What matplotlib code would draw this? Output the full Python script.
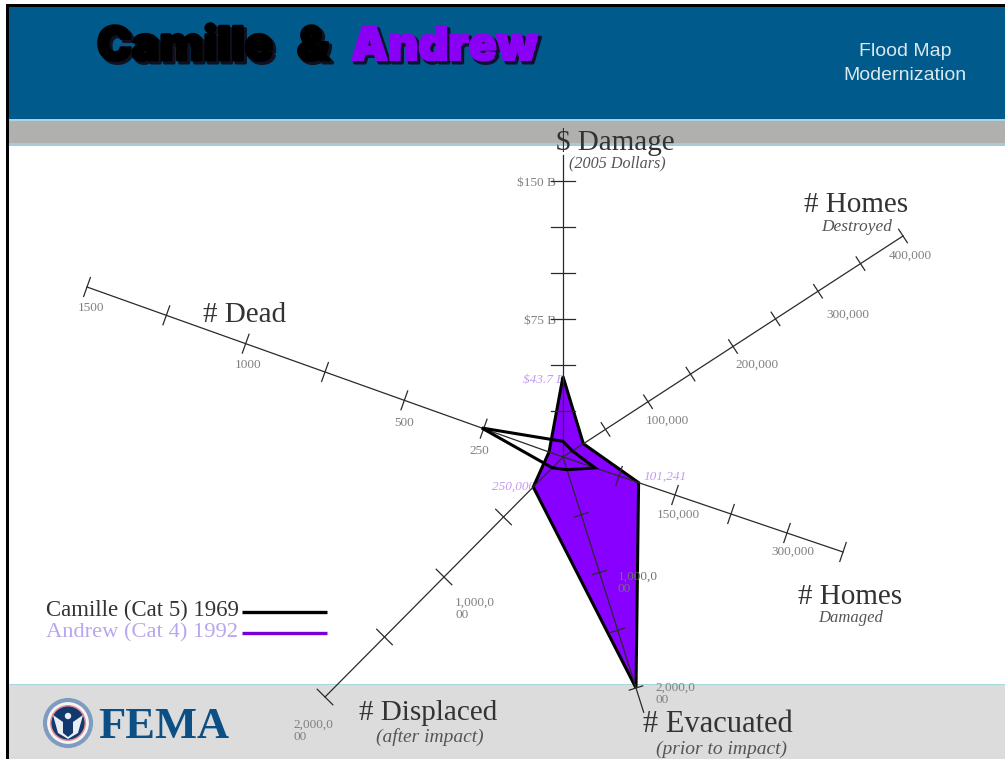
import numpy as np
import matplotlib
matplotlib.use('Agg')
import matplotlib.pyplot as plt
from matplotlib.patches import Rectangle, Circle, Polygon
import matplotlib.patheffects as pe

# axis order: damage, homes destroyed, homes damaged, evacuated, displaced, dead
camille = [8.5, 11000, 43000, 110000, 90000, 256]
andrew = [43.7, 24000, 101241, 2000000, 250000, 44]

damage_ticks = [25, 50, 75, 100, 125, 150]
destroyed_ticks = [50000, 100000, 150000, 200000, 250000, 300000, 350000, 400000]
damaged_ticks = [75000, 150000, 225000, 300000, 375000]
evacuated_ticks = [500000, 1000000, 1500000, 2000000]
displaced_ticks = [500000, 1000000, 1500000, 2000000]
dead_ticks = [250, 500, 750, 1000, 1250, 1500]

W, H = 1005, 759
CX, CY = 563, 457

# for each axis: pixel offset from the centre at the last tick
spokes = [
    {'ticks': damage_ticks, 'end': (0, -276), 'over': 1.094, 'half': 12},
    {'ticks': destroyed_ticks, 'end': (340, -221), 'over': 1.0, 'half': 8},
    {'ticks': damaged_ticks, 'end': (280, 95), 'over': 1.0, 'half': 10},
    {'ticks': evacuated_ticks, 'end': (73, 231), 'over': 1.105, 'half': 7},
    {'ticks': displaced_ticks, 'end': (-238, 240), 'over': 1.0, 'half': 11},
    {'ticks': dead_ticks, 'end': (-476, -170), 'over': 1.0, 'half': 10},
]


def to_xy(spoke, value):
    frac = value / spoke['ticks'][-1]
    return CX + spoke['end'][0] * frac, CY + spoke['end'][1] * frac


def polygon_points(values):
    return [to_xy(s, v) for s, v in zip(spokes, values)]


fig = plt.figure(figsize=(W / 100, H / 100), dpi=100)
ax = fig.add_axes([0, 0, 1, 1])
ax.set_xlim(0, W)
ax.set_ylim(H, 0)
ax.axis('off')

# slide background
ax.add_patch(Rectangle((8, 6), W, 113, color='#005a8c', lw=0, zorder=0))
ax.add_patch(Rectangle((8, 119), W, 2, color='#a9d3de', lw=0, zorder=0))
ax.add_patch(Rectangle((8, 121), W, 22, color='#b0b0ae', lw=0, zorder=0))
ax.add_patch(Rectangle((8, 143), W, 3, color='#a9c9d4', lw=0, zorder=0))
ax.add_patch(Rectangle((8, 685), W, 74, color='#dcdcdc', lw=0, zorder=0))
ax.add_patch(Rectangle((8, 684), W, 1.2, color='#a5d8dc', lw=0, zorder=0))
ax.add_patch(Rectangle((6, 4), W, 2.5, color='black', lw=0, zorder=1))
ax.add_patch(Rectangle((6, 4), 2.8, H, color='black', lw=0, zorder=1))

# title
for word, x, colour, shadow, stroke in [('Camille', 97, 'black', '#101020', 2),
                                        ('&', 297, 'black', '#101020', 2),
                                        ('Andrew', 351, '#8a00f5', '#101030', 1.5)]:
    ax.text(x, 48, word, family=['Inter', 'Liberation Sans'], weight=900, fontsize=33.5,
            color=colour, ha='left', va='center', zorder=2,
            path_effects=[pe.Stroke(linewidth=2.5, foreground=shadow, offset=(2, -2)),
                          pe.Stroke(linewidth=stroke, foreground=colour), pe.Normal()])
ax.text(905, 52, 'Flood Map', family='Liberation Sans', fontsize=14, color='#d8e8f0',
        ha='center', va='center', zorder=2)
ax.text(905, 76, 'Modernization', family='Liberation Sans', fontsize=14, color='#d8e8f0',
        ha='center', va='center', zorder=2)

SERIF = 'Liberation Serif'
TITLE_C = '#333333'
SUB_C = '#555555'
TICK_C = '#808080'
PURPLE_T = '#c09cf0'

# axis names
names = [
    ('$ Damage', 21, 615, 142, '(2005 Dollars)', 11.6, 617, 163),
    ('# Homes', 21, 856, 205, 'Destroyed', 12.5, 857, 227),
    ('# Dead', 21, 245, 315, None, 0, 0, 0),
    ('# Homes', 21, 850, 597, 'Damaged', 12, 851, 618),
    ('# Displaced', 21, 428, 713, '(after impact)', 14, 430, 737),
    ('# Evacuated', 22, 718, 725, '(prior to impact)', 14, 722, 749),
]
for name, size, x, y, sub, sub_size, sx, sy in names:
    ax.text(x, y, name, family=SERIF, fontsize=size, color=TITLE_C, ha='center', va='center', zorder=2)
    if sub:
        ax.text(sx, sy, sub, family=SERIF, style='italic', fontsize=sub_size, color=SUB_C,
                ha='center', va='center', zorder=2)

# tick labels, these sit under the filled shape
tick_labels = [
    ('$150 B', 556, 183, 'right'), ('$75 B', 556, 321, 'right'),
    ('1500', 91, 308, 'center'), ('1000', 248, 365, 'center'),
    ('500', 404, 423, 'center'), ('250', 479, 451, 'center'),
    ('100,000', 667, 421, 'center'), ('200,000', 757, 365, 'center'),
    ('300,000', 848, 315, 'center'), ('400,000', 910, 256, 'center'),
    ('150,000', 678, 515, 'center'), ('300,000', 793, 552, 'center'),
    ('1,000,0\n00', 455, 609, 'left'), ('2,000,0\n00', 293, 731, 'left'),
    ('2,000,0\n00', 655, 694, 'left'),
]
for label, x, y, ha in tick_labels:
    ax.text(x, y, label, family=SERIF, fontsize=9.5, color=TICK_C, ha=ha, va='center',
            linespacing=1.05, zorder=2)
# this one is printed across the edge of the shape
ax.text(618, 583, '1,000,0\n00', family=SERIF, fontsize=9.5, color='#707070', ha='left', va='center',
        linespacing=1.05, zorder=3.5)

for label, x, y in [('$43.7 B', 523, 380), ('101,241', 644, 477), ('250,000', 492, 487)]:
    ax.text(x, y, label, family=SERIF, style='italic', fontsize=9.5, color=PURPLE_T,
            ha='left', va='center', zorder=2)

# Andrew is filled, Camille only outlined on top of the axes
ax.add_patch(Polygon(polygon_points(andrew), closed=True, facecolor='#8800ff', edgecolor='black',
                     lw=2.2, joinstyle='miter', zorder=3))

for s in spokes:
    ex, ey = s['end']
    ax.plot([CX, CX + ex * s['over']], [CY, CY + ey * s['over']], color='#2a2a2a', lw=0.9, zorder=4)
    r = np.hypot(ex, ey)
    nx, ny = -ey / r, ex / r
    for t in s['ticks']:
        x, y = to_xy(s, t)
        ax.plot([x - nx * s['half'], x + nx * s['half']], [y - ny * s['half'], y + ny * s['half']],
                color='#2a2a2a', lw=0.9, zorder=4)

ax.add_patch(Polygon(polygon_points(camille), closed=True, fill=False, edgecolor='black',
                     lw=2.2, joinstyle='miter', zorder=5))

# legend
ax.text(46, 610, 'Camille (Cat 5) 1969', family=SERIF, fontsize=16.4, color='#333333',
        ha='left', va='center', zorder=2)
ax.text(46, 633, 'Andrew (Cat 4) 1992', family=SERIF, fontsize=16.2, color='#b9a6f0',
        ha='left', va='center', zorder=2)
ax.plot([242, 327], [611.5, 611.5], color='black', lw=2.4, solid_capstyle='butt', zorder=3)
ax.plot([242, 327], [632.5, 632.5], color='#7a00d8', lw=2.4, solid_capstyle='butt', zorder=3)

# FEMA logo
ax.add_patch(Circle((68, 723), 25, color='#f4f4f4', lw=0, zorder=2))
ax.add_patch(Circle((68, 723), 23, fill=False, edgecolor='#7f9cc0', lw=3, zorder=2))
ax.add_patch(Circle((68, 723), 18, color='#e58a90', lw=0, zorder=2))
ax.add_patch(Circle((68, 723), 16.5, color='#12386e', lw=0, zorder=2))
ax.add_patch(Polygon([(53, 715), (63, 722), (63, 733), (68, 737), (73, 733), (73, 722), (83, 715),
                      (78, 733), (68, 739), (58, 733)], closed=True, color='#e8eef2', lw=0, zorder=2))
ax.add_patch(Circle((68, 716), 3.2, color='#e8eef2', lw=0, zorder=2))
ax.text(98, 727, 'FEMA', family=SERIF, weight='bold', fontsize=32, color='#0b4f85',
        ha='left', va='center', zorder=2)

fig.savefig('out.png', dpi=100)
